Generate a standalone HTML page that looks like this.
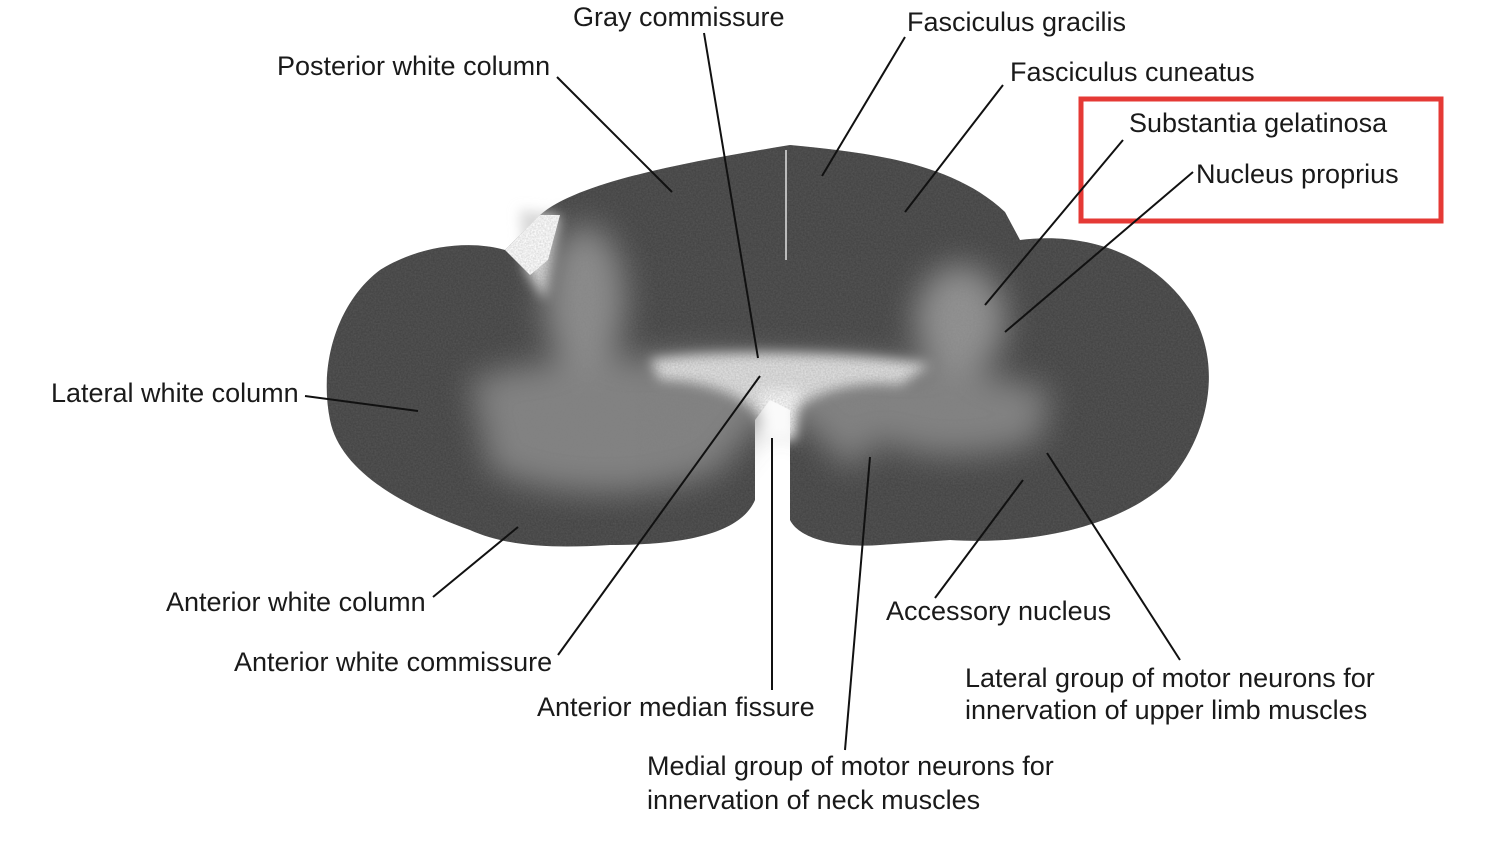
<!DOCTYPE html>
<html><head><meta charset="utf-8"><style>
html,body{margin:0;padding:0;background:#fff;}
svg{display:block;}
text{font-family:"Liberation Sans",Arial,sans-serif;font-size:27px;fill:#1a1a1a;}
</style></head><body>
<svg width="1510" height="844" viewBox="0 0 1510 844" xmlns="http://www.w3.org/2000/svg">
<defs>
<filter id="n" x="0" y="0" width="100%" height="100%">
<feTurbulence type="fractalNoise" baseFrequency="0.6" numOctaves="2" seed="3"/>
<feColorMatrix values="0 0 0 0 0.2  0 0 0 0 0.2  0 0 0 0 0.2  0 0 0 -1.2 1"/>
<feComposite in2="SourceGraphic" operator="in"/>
</filter>
<filter id="b"><feGaussianBlur stdDeviation="16"/></filter>
<filter id="b2"><feGaussianBlur stdDeviation="6"/></filter>
</defs>
<path id="cord" d="M330 420 C318 360 340 300 380 270 C420 245 470 240 505 250 L540 215 C580 180 700 160 790 145 C860 152 950 160 1005 212 L1020 240 C1080 232 1150 250 1190 310 C1222 360 1212 430 1170 480 C1120 528 1030 545 950 540 L880 545 C840 548 800 540 790 520 L790 410 L770 400 L755 420 L755 500 C740 535 680 545 610 545 C560 548 510 548 470 530 C400 505 340 470 330 420 Z" fill="#444"/>
<g filter="url(#b)" opacity="0.85">
<path d="M470 380 C520 360 600 360 700 355 L820 360 C900 360 980 370 1050 390 L1040 440 C980 460 920 460 880 440 L850 470 L800 420 L760 420 L720 470 C650 500 560 500 490 470 Z" fill="#8e8e8e"/>
<ellipse cx="585" cy="300" rx="40" ry="75" fill="#9a9a9a"/>
<ellipse cx="960" cy="320" rx="45" ry="55" fill="#a0a0a0"/>
</g>
<g filter="url(#b2)">
<path d="M650 360 C700 350 850 350 930 365 L900 385 C850 380 800 395 790 420 L760 420 C750 395 700 380 660 380 Z" fill="#e0e0e0"/>
<path d="M760 390 L800 390 L795 440 L765 440 Z" fill="#fafafa"/>
<path d="M520 210 L560 215 L545 300 L525 270 Z" fill="#d8d8d8"/>
</g>
<path d="M505 250 L540 215 L560 215 L548 260 L530 275 Z" fill="#fff"/>
<clipPath id="c"><use href="#cord"/></clipPath>
<rect x="0" y="0" width="1510" height="844" fill="#fff" filter="url(#n)" opacity="0.35" clip-path="url(#c)"/>
<line x1="786" y1="150" x2="786" y2="260" stroke="#bbb" stroke-width="2"/>
<rect x="1081" y="99" width="360" height="122" fill="none" stroke="#e53935" stroke-width="5"/>
<g stroke="#111" stroke-width="2" fill="none">
<line x1="557" y1="77" x2="672" y2="192"/>
<line x1="704" y1="33" x2="758" y2="358"/>
<line x1="905" y1="37" x2="822" y2="176"/>
<line x1="1003" y1="85" x2="905" y2="212"/>
<line x1="1123" y1="140" x2="985" y2="305"/>
<line x1="1193" y1="172" x2="1005" y2="332"/>
<line x1="305" y1="396" x2="418" y2="411"/>
<line x1="433" y1="597" x2="518" y2="527"/>
<line x1="558" y1="655" x2="760" y2="376"/>
<line x1="772" y1="690" x2="772" y2="438"/>
<line x1="845" y1="750" x2="870" y2="457"/>
<line x1="935" y1="598" x2="1023" y2="480"/>
<line x1="1180" y1="660" x2="1047" y2="453"/>
</g>
<text x="573" y="26">Gray commissure</text>
<text x="907" y="31">Fasciculus gracilis</text>
<text x="277" y="75">Posterior white column</text>
<text x="1010" y="81">Fasciculus cuneatus</text>
<text x="1129" y="132">Substantia gelatinosa</text>
<text x="1196" y="183">Nucleus proprius</text>
<text x="51" y="402">Lateral white column</text>
<text x="166" y="611">Anterior white column</text>
<text x="886" y="620">Accessory nucleus</text>
<text x="234" y="671">Anterior white commissure</text>
<text x="965" y="687">Lateral group of motor neurons for</text>
<text x="965" y="719">innervation of upper limb muscles</text>
<text x="537" y="716">Anterior median fissure</text>
<text x="647" y="775">Medial group of motor neurons for</text>
<text x="647" y="809">innervation of neck muscles</text>
</svg>
</body></html>
